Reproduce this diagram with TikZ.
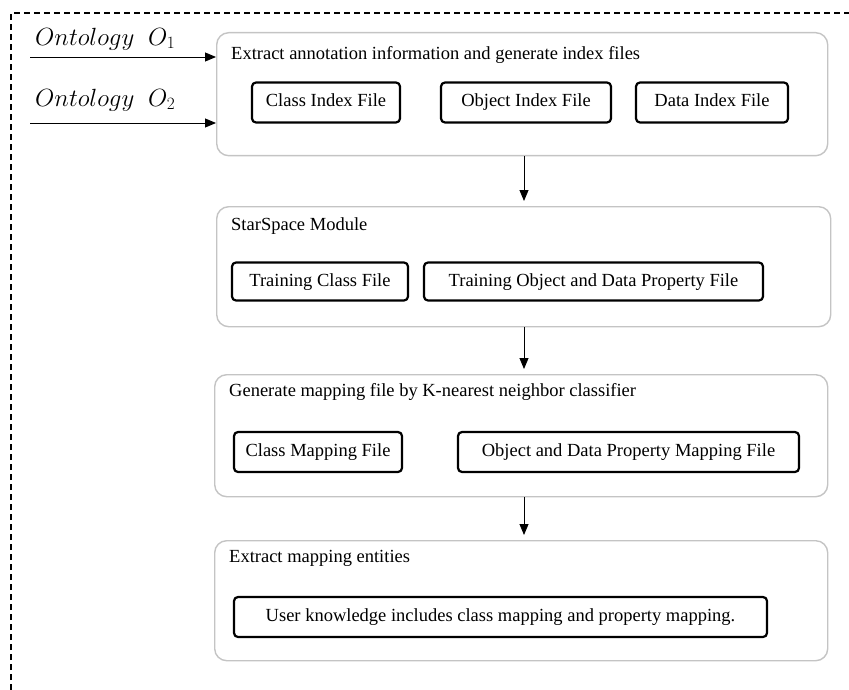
\documentclass[tikz,border=0pt]{standalone}
\usepackage{fontspec}
\setmainfont{Liberation Serif}
\usepackage{xcolor}
\usetikzlibrary{arrows.meta}

\definecolor{stagegray}{RGB}{196,196,196}

\begin{document}
\begin{tikzpicture}[x=1pt, y=-1pt,
  stage/.style={draw=stagegray, line width=1.4pt, rounded corners=12pt, anchor=north west, inner sep=0pt},
  stagetitle/.style={anchor=west, inner sep=0pt, font=\fontsize{18.5}{21}\selectfont},
  filebox/.style={draw, line width=2.2pt, rounded corners=4pt, inner sep=0pt, minimum height=40pt, text height=13pt, text depth=4pt, font=\fontsize{18.5}{21}\selectfont},
  flow/.style={-{Triangle[length=11pt,width=9pt]}, line width=0.9pt, shorten >=5pt},
  inlabel/.style={anchor=west, inner sep=0pt, font=\fontsize{23.5}{26}\selectfont}]

\useasboundingbox (0,0) rectangle (849,690);
\draw[dashed, dash pattern=on 6pt off 4pt, line width=1.1pt] (11,690) -- (11,13) -- (849,13);

% stage 1
\node[stage, minimum width=611pt, minimum height=123pt] (S1) at (216,32) {};
\node[stagetitle] (T1) at (231,55) {Extract annotation information and generate index files};
\node[filebox, minimum width=148pt] (classidx) at (326,102.5) {Class Index File};
\node[filebox, minimum width=170pt] (objidx) at (526,102.5) {Object Index File};
\node[filebox, minimum width=152pt] (dataidx) at (712,102.5) {Data Index File};

% inputs
\coordinate (in1) at (30,57);
\coordinate (in2) at (30,123);
\node[inlabel] (O1) at (35,39) {$Ontology\;\;O_1$};
\node[inlabel] (O2) at (35,100) {$Ontology\;\;O_2$};
\draw[flow, shorten >=0pt] (in1) -- (S1.west |- in1);
\draw[flow, shorten >=0pt] (in2) -- (S1.west |- in2);

% stage 2
\node[stage, minimum width=614pt, minimum height=120pt] (S2) at (216,206) {};
\node[stagetitle] (T2) at (231,226) {StarSpace Module};
\node[filebox, minimum width=176pt, minimum height=38pt] (trainclass) at (320,281.5) {Training Class File};
\node[filebox, minimum width=339pt, minimum height=38pt] (trainprop) at (593.5,281.5) {Training Object and Data Property File};

% stage 3
\node[stage, minimum width=613pt, minimum height=122pt] (S3) at (214,374) {};
\node[stagetitle] (T3) at (229,392) {Generate mapping file by K-nearest neighbor classifier};
\node[filebox, minimum width=168pt] (classmap) at (318,452) {Class Mapping File};
\node[filebox, minimum width=341pt] (propmap) at (628.5,452) {Object and Data Property Mapping File};

% stage 4
\node[stage, minimum width=613pt, minimum height=120pt] (S4) at (214,540) {};
\node[stagetitle] (T4) at (229,558) {Extract mapping entities};
\node[filebox, minimum width=533pt] (userknow) at (500.5,617) {User knowledge includes class mapping and property mapping.};

\draw[flow] (S1.south -| 524,0) -- (S2.north -| 524,0);
\draw[flow] (S2.south -| 524,0) -- (S3.north -| 524,0);
\draw[flow] (S3.south -| 524,0) -- (S4.north -| 524,0);

\end{tikzpicture}
\end{document}
